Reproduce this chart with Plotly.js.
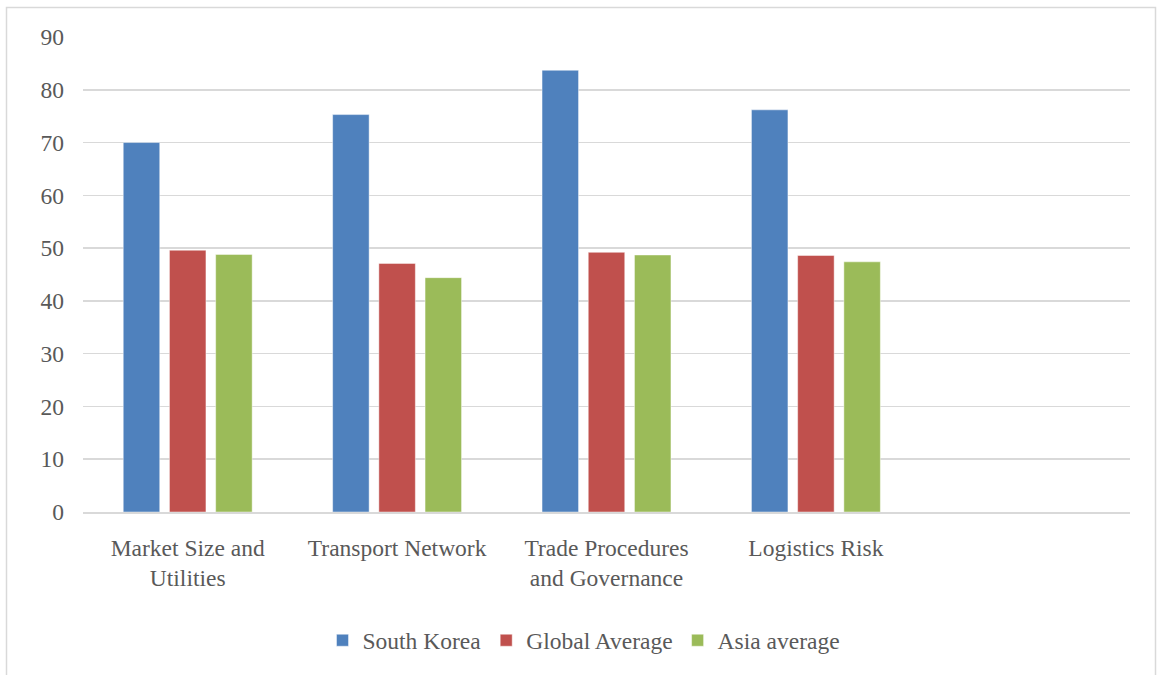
<!DOCTYPE html>
<html>
<head>
<meta charset="utf-8">
<script src="https://cdn.plot.ly/plotly-3.0.1.min.js"></script>
<style>
  html, body { margin: 0; padding: 0; background: #ffffff; }
  #chart { width: 1158px; height: 675px; }
</style>
</head>
<body>
<div id="chart"></div>
<script>
const categories = [
  "Market Size and<br>Utilities",
  "Transport Network",
  "Trade Procedures<br>and Governance",
  "Logistics Risk"
];
const southKorea = [70.0, 75.3, 83.7, 76.2];
const globalAverage = [49.6, 47.1, 49.2, 48.6];
const asiaAverage = [48.8, 44.4, 48.7, 47.4];
const yTicks = [0, 10, 20, 30, 40, 50, 60, 70, 80, 90];

const font = "'Liberation Serif', 'Times New Roman', serif";
const textColor = "#595959";
const fs = 23.5;

function barTrace(name, values, color) {
  return {
    type: "bar",
    name: name,
    x: categories,
    y: values,
    marker: { color: color, line: { color: "rgba(255,255,255,0.45)", width: 1 } },
    hoverinfo: "skip"
  };
}

const data = [
  barTrace("South Korea", southKorea, "#4F81BD"),
  barTrace("Global Average", globalAverage, "#C0504D"),
  barTrace("Asia average", asiaAverage, "#9BBB59")
];

const W = 1158, H = 675;
const L = 83, R = 1130, T = 37, B = 514;
const px = x => (x - L) / (R - L);
const py = y => (B - y) / (B - T);

const layout = {
  width: W,
  height: H,
  margin: { l: L, r: W - R, t: T, b: H - B },
  paper_bgcolor: "#ffffff",
  plot_bgcolor: "#ffffff",
  font: { family: font, size: fs, color: textColor },
  barmode: "group",
  bargap: 0.338,
  bargroupgap: 0.21,
  showlegend: true,
  legend: {
    orientation: "h",
    x: px(584),
    xanchor: "center",
    y: py(643),
    yanchor: "middle",
    font: { family: font, size: fs, color: textColor },
    itemclick: false,
    itemdoubleclick: false
  },
  xaxis: {
    type: "category",
    range: [-0.5, 4.5],
    showgrid: false,
    showline: true,
    linecolor: "#d9d9d9",
    linewidth: 1.5,
    ticks: "",
    ticklabelstandoff: 14,
    tickfont: { family: font, size: fs, color: textColor },
    fixedrange: true,
    zeroline: false
  },
  yaxis: {
    range: [0, 90],
    tickvals: yTicks,
    ticktext: yTicks.map(String),
    showgrid: true,
    gridcolor: "#d9d9d9",
    gridwidth: 1.5,
    zeroline: false,
    showline: false,
    ticks: "",
    ticklabelstandoff: 18,
    tickfont: { family: font, size: fs, color: textColor },
    fixedrange: true
  },
  shapes: [
    {
      type: "rect",
      xref: "paper", yref: "paper",
      x0: px(6.5), x1: px(1155.5),
      y0: py(700), y1: py(7.5),
      line: { color: "#d9d9d9", width: 1.5 },
      fillcolor: "rgba(0,0,0,0)",
      layer: "below"
    }
  ]
};

Plotly.newPlot("chart", data, layout, { displayModeBar: false, staticPlot: true });
</script>
</body>
</html>
